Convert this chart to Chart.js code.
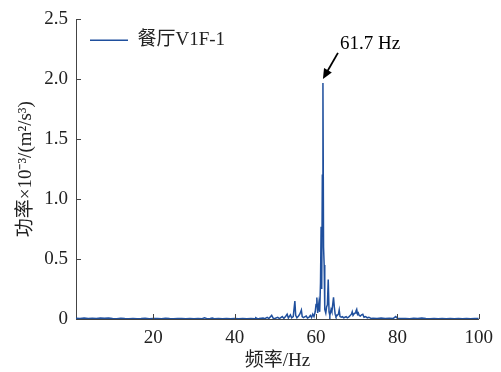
<!DOCTYPE html>
<html>
<head>
<meta charset="utf-8">
<script src="https://cdn.jsdelivr.net/npm/chart.js@4"></script>
<style>
  body { margin: 0; background: #fff; }
  canvas { display: block; }
</style>
</head>
<body>
<canvas id="specChart" width="501" height="372"></canvas>
<script>
// frequency (Hz) and power (10^-3 (m^2/s^3))
const freqs = [
  1, 2, 3, 4, 5, 6, 7, 8, 9, 10, 11, 12, 13, 14, 15, 16, 17, 18, 19, 20,
  21, 22, 23, 24, 25, 26, 27, 28, 29, 30, 31, 32, 32.6, 33.2, 34, 34.5, 35, 36, 37, 38,
  39, 40, 41, 42, 43, 44, 45, 45.2, 45.6, 46, 47, 47.4, 48, 48.4, 49.1, 49.5, 50, 50.6, 51, 51.7,
  52.1, 52.6, 52.9, 53.2, 53.7, 54.0, 54.4, 54.8, 55.0, 55.3, 55.7, 56.0, 56.4, 56.6, 56.9, 57.3, 57.6, 57.9, 58.3, 58.6,
  58.9, 59.2, 59.5, 59.8, 60.0, 60.2, 60.4, 60.7, 60.9, 61.1, 61.25, 61.4, 61.55, 61.7, 61.85, 62.0, 62.15, 62.4, 62.6, 62.8,
  63.0, 63.2, 63.4, 63.7, 63.9, 64.1, 64.3, 64.5, 64.7, 64.9, 65.2, 65.5, 65.7, 65.9, 66.2, 66.5, 66.8, 67.1, 67.4, 67.7,
  68.0, 68.4, 68.7, 68.9, 69.1, 69.4, 69.6, 69.8, 70.0, 70.2, 70.4, 70.6, 70.9, 71.2, 71.5, 71.8, 72.2, 72.6, 73, 73.5,
  74, 75, 76, 77, 78, 79, 79.6, 80, 81, 82, 83, 84, 85, 86, 87, 88, 89, 90, 91, 92,
  93, 94, 95, 96, 97, 98, 99, 100
];
const power = [
  0.006, 0.004, 0.008, 0.005, 0.007, 0.004, 0.009, 0.006, 0.008, 0.005, 0.003, 0.006, 0.004, 0.003, 0.005, 0.003, 0.004, 0.006, 0.003, 0.004,
  0.005, 0.003, 0.006, 0.004, 0.003, 0.005, 0.004, 0.003, 0.005, 0.003, 0.004, 0.003, 0.010, 0.003, 0.004, 0.009, 0.003, 0.004, 0.003, 0.005,
  0.003, 0.004, 0.003, 0.005, 0.003, 0.004, 0.003, 0.010, 0.003, 0.004, 0.008, 0.003, 0.014, 0.004, 0.030, 0.005, 0.006, 0.014, 0.004, 0.020,
  0.005, 0.025, 0.040, 0.008, 0.035, 0.010, 0.020, 0.150, 0.030, 0.010, 0.025, 0.040, 0.075, 0.020, 0.012, 0.020, 0.025, 0.008, 0.015, 0.030,
  0.012, 0.040, 0.020, 0.060, 0.120, 0.180, 0.050, 0.135, 0.060, 0.300, 0.770, 0.250, 1.200, 1.970, 0.600, 0.450, 0.080, 0.050, 0.100, 0.120,
  0.330, 0.060, 0.030, 0.080, 0.060, 0.120, 0.180, 0.100, 0.040, 0.020, 0.030, 0.040, 0.075, 0.020, 0.015, 0.020, 0.010, 0.015, 0.020, 0.010,
  0.015, 0.030, 0.040, 0.060, 0.030, 0.045, 0.050, 0.065, 0.080, 0.040, 0.050, 0.030, 0.025, 0.035, 0.040, 0.015, 0.020, 0.010, 0.015, 0.005,
  0.006, 0.004, 0.008, 0.004, 0.006, 0.005, 0.020, 0.006, 0.004, 0.005, 0.003, 0.006, 0.004, 0.008, 0.004, 0.003, 0.005, 0.003, 0.004, 0.003,
  0.005, 0.003, 0.004, 0.003, 0.004, 0.003, 0.005, 0.004
];
const xTicks = [20, 40, 60, 80, 100];
const yTicks = [0, 0.5, 1.0, 1.5, 2.0, 2.5];
const seriesName = '餐厅V1F-1';
const peakFreq = 61.7;
const peakValue = 1.97;
const peakLabel = '61.7 Hz';

const lineColor = '#1f4f9d';
const fontFamily = "'Liberation Serif', 'Noto Sans CJK SC', serif";

// inward tick marks like the original figure
const inwardTicks = {
    id: 'inwardTicks',
    afterDraw(chart) {
        const c = chart.ctx;
        const xs = chart.scales.x, ys = chart.scales.y;
        const area = chart.chartArea;
        c.save();
        c.strokeStyle = '#444';
        c.lineWidth = 1;
        c.beginPath();
        xTicks.forEach(v => {
            const px = Math.round(xs.getPixelForValue(v)) + 0.5;
            c.moveTo(px, area.bottom);
            c.lineTo(px, area.bottom - 5);
        });
        yTicks.forEach(v => {
            const py = Math.round(ys.getPixelForValue(v)) + 0.5;
            c.moveTo(area.left, py);
            c.lineTo(area.left + 5, py);
        });
        c.stroke();
        c.restore();
    }
};

// arrow and text pointing at the main peak
const peakNote = {
    id: 'peakNote',
    afterDatasetsDraw(chart) {
        const c = chart.ctx;
        const tipX = chart.scales.x.getPixelForValue(peakFreq);
        const tipY = chart.scales.y.getPixelForValue(peakValue) - 4;
        const tailX = tipX + 15, tailY = tipY - 26;
        const ang = Math.atan2(tipY - tailY, tipX - tailX);
        c.save();
        c.strokeStyle = '#000';
        c.fillStyle = '#000';
        c.lineWidth = 1.8;
        c.beginPath();
        c.moveTo(tailX, tailY);
        c.lineTo(tipX - 6 * Math.cos(ang), tipY - 6 * Math.sin(ang));
        c.stroke();
        c.beginPath();
        c.moveTo(tipX, tipY);
        c.lineTo(tipX - 10 * Math.cos(ang) + 4.5 * Math.sin(ang), tipY - 10 * Math.sin(ang) - 4.5 * Math.cos(ang));
        c.lineTo(tipX - 10 * Math.cos(ang) - 4.5 * Math.sin(ang), tipY - 10 * Math.sin(ang) + 4.5 * Math.cos(ang));
        c.closePath();
        c.fill();
        c.font = '19px ' + fontFamily;
        c.textAlign = 'left';
        c.textBaseline = 'middle';
        c.fillText(peakLabel, tipX + 17, tipY - 35);
        c.restore();
    }
};

const ctx = document.getElementById('specChart').getContext('2d');

new Chart(ctx, {
    type: 'line',
    data: {
        labels: freqs,
        datasets: [{
            label: seriesName,
            data: freqs.map((f, i) => ({ x: f, y: power[i] })),
            borderColor: lineColor,
            backgroundColor: lineColor,
            borderWidth: 1.5,
            pointRadius: 0,
            tension: 0,
            fill: false
        }]
    },
    options: {
        responsive: false,
        animation: false,
        layout: { padding: { top: 19, right: 21, left: 0, bottom: 0 } },
        scales: {
            x: {
                type: 'linear',
                min: 1,
                max: 100,
                afterBuildTicks: s => { s.ticks = xTicks.map(v => ({ value: v })); },
                afterFit: s => { s.height = 53; },
                grid: { display: false, drawTicks: false },
                border: { display: true, color: '#444', width: 1 },
                ticks: {
                    color: '#222',
                    padding: 8,
                    maxRotation: 0,
                    font: { family: fontFamily, size: 19 }
                },
                title: {
                    display: true,
                    text: '频率/Hz',
                    color: '#222',
                    padding: { top: 4, bottom: 0 },
                    font: { family: fontFamily, size: 19 }
                }
            },
            y: {
                min: 0,
                max: 2.5,
                afterBuildTicks: s => { s.ticks = yTicks.map(v => ({ value: v })); },
                afterFit: s => { s.width = 76; },
                grid: { display: false, drawTicks: false },
                border: { display: true, color: '#444', width: 1 },
                ticks: {
                    color: '#222',
                    padding: 8,
                    font: { family: fontFamily, size: 19 },
                    callback: v => v === 0 ? '0' : v.toFixed(1)
                },
                title: {
                    display: true,
                    text: '功率×10⁻³/(m²/s³)',
                    color: '#222',
                    padding: { top: 15, bottom: 0 },
                    font: { family: fontFamily, size: 19 }
                }
            }
        },
        plugins: {
            legend: {
                display: true,
                position: 'chartArea',
                align: 'start',
                title: {
                    display: true,
                    text: ' ',
                    padding: 0,
                    font: { family: fontFamily, size: 14 }
                },
                labels: {
                    boxWidth: 38,
                    boxHeight: 0,
                    padding: 14,
                    color: '#222',
                    font: { family: fontFamily, size: 19 }
                }
            },
            tooltip: { enabled: false }
        }
    },
    plugins: [inwardTicks, peakNote]
});
</script>
</body>
</html>
